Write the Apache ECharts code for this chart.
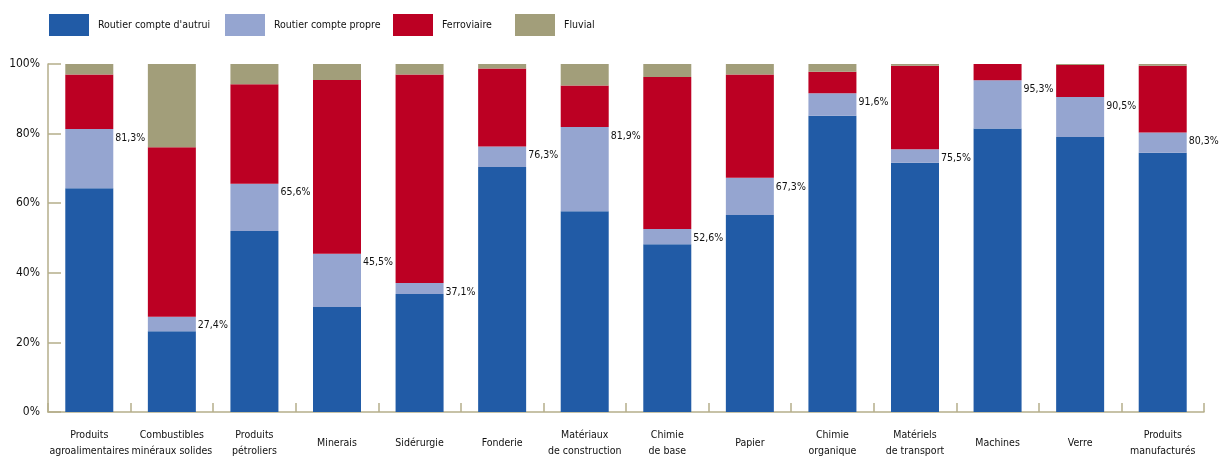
<!DOCTYPE html>
<html>
<head>
<meta charset="utf-8">
<script src="https://cdn.jsdelivr.net/npm/echarts@6/dist/echarts.min.js"></script>
<style>
html,body{margin:0;padding:0;background:#fff;}
#chart{width:1219px;height:459px;}
</style>
</head>
<body>
<div id="chart"></div>
<script>
const categories = ["Produits\nagroalimentaires", "Combustibles\nminéraux solides", "Produits\npétroliers", "Minerais", "Sidérurgie", "Fonderie", "Matériaux\nde construction", "Chimie\nde base", "Papier", "Chimie\norganique", "Matériels\nde transport", "Machines", "Verre", "Produits\nmanufacturés"];
const seriesNames = ["Routier compte d'autrui", "Routier compte propre", "Ferroviaire", "Fluvial"];
const autrui = [64.3, 23.2, 52.0, 30.2, 33.9, 70.4, 57.7, 48.2, 56.6, 85.1, 71.6, 81.5, 79.0, 74.5];
const propre = [17.0, 4.2, 13.6, 15.3, 3.2, 5.9, 24.2, 4.4, 10.7, 6.5, 3.9, 13.8, 11.5, 5.8];
const ferroviaire = [15.7, 48.7, 28.6, 49.9, 59.9, 22.4, 11.9, 43.7, 29.7, 6.2, 24.0, 4.7, 9.2, 19.2];
const fluvial = [3.0, 23.9, 5.8, 4.6, 3.0, 1.3, 6.2, 3.7, 3.0, 2.2, 0.5, 0.0, 0.3, 0.5];
const routierTotalLabels = ["81,3%", "27,4%", "65,6%", "45,5%", "37,1%", "76,3%", "81,9%", "52,6%", "67,3%", "91,6%", "75,5%", "95,3%", "90,5%", "80,3%"];
const yTicks = [0, 20, 40, 60, 80, 100];

const FONT = "'Liberation Sans Narrow', 'DejaVu Sans Condensed', 'Arial Narrow', sans-serif";
const colors = ['#215BA6', '#95A5D0', '#BC0023', '#A29E7A'];
const axisColor = '#B5AE8B';
const legendLefts = [49, 225, 393, 515];

const chart = echarts.init(document.getElementById('chart'), null, {renderer: 'canvas'});

const legends = seriesNames.map((n, i) => ({
  data: [n],
  left: legendLefts[i],
  top: 14,
  padding: 0,
  itemWidth: 40,
  itemHeight: 22,
  icon: 'rect',
  selectedMode: false,
  textStyle: {fontFamily: FONT, fontSize: 10.5, color: '#111', padding: [0, 0, 0, 4]}
}));

const dataSets = [autrui, propre, ferroviaire, fluvial];

const series = dataSets.map((d, i) => {
  const s = {
    name: seriesNames[i],
    type: 'bar',
    stack: 'total',
    barWidth: 48,
    data: d,
    itemStyle: {color: colors[i]},
    emphasis: {disabled: true},
    animation: false
  };
  if (i === 1) {
    s.label = {
      show: true,
      position: ['100%', 9],
      align: 'left',
      verticalAlign: 'middle',
      offset: [2, 0],
      fontFamily: FONT,
      fontSize: 10.5,
      color: '#111',
      formatter: p => routierTotalLabels[p.dataIndex]
    };
  }
  return s;
});

chart.setOption({
  animation: false,
  color: colors,
  legend: legends,
  grid: {left: 48, right: 15, top: 64, bottom: 47, containLabel: false},
  xAxis: {
    type: 'category',
    data: categories,
    boundaryGap: true,
    axisLine: {lineStyle: {color: axisColor, width: 1.5}},
    axisTick: {show: true, inside: true, length: 9, lineStyle: {color: axisColor, width: 1.5}},
    axisLabel: {
      interval: 0,
      margin: 31,
      verticalAlign: 'middle',
      fontFamily: FONT,
      fontSize: 10.5,
      lineHeight: 16,
      color: '#111'
    }
  },
  yAxis: {
    type: 'value',
    min: yTicks[0],
    max: yTicks[yTicks.length - 1],
    interval: 20,
    axisLine: {show: true, lineStyle: {color: axisColor, width: 1.5}},
    axisTick: {show: true, inside: true, length: 13, lineStyle: {color: axisColor, width: 1.5}},
    splitLine: {show: false},
    axisLabel: {
      formatter: '{value}%',
      margin: 8,
      fontFamily: FONT,
      fontSize: 12,
      color: '#111'
    }
  },
  series: series
});
</script>
</body>
</html>
